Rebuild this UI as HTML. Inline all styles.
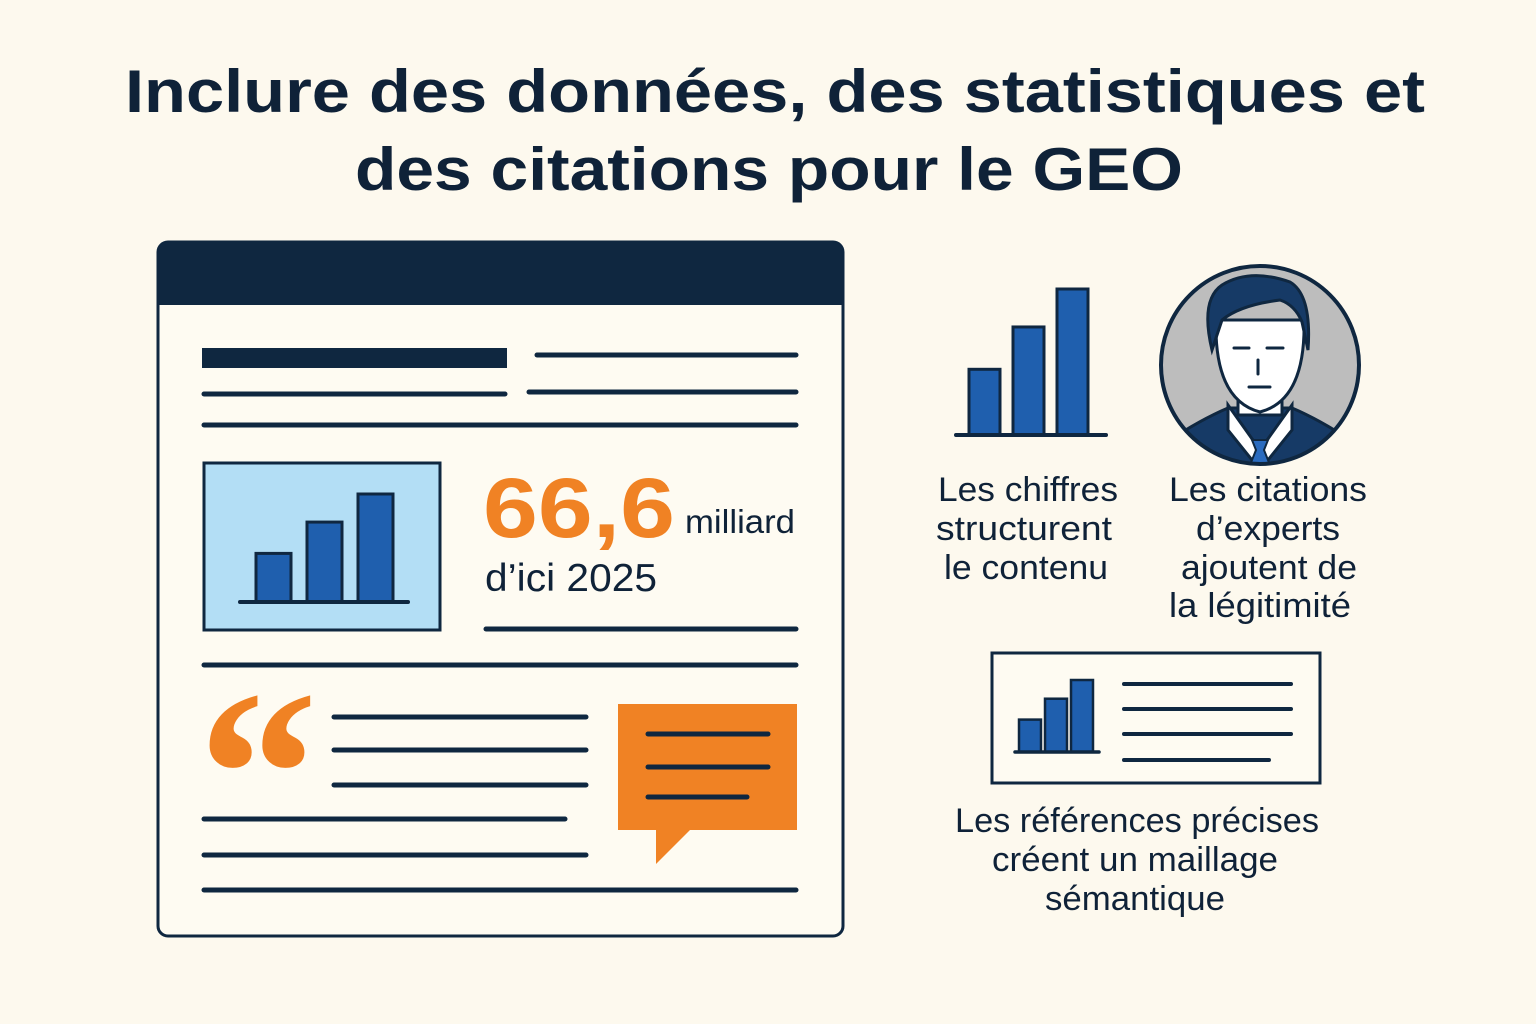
<!DOCTYPE html>
<html><head><meta charset="utf-8"><style>
html,body{margin:0;padding:0;background:#fdf9ee;}
svg{display:block;}
text{font-family:"Liberation Sans",sans-serif;fill:#0f2238;}
</style></head><body>
<svg id="root" width="1536" height="1024" viewBox="0 0 1536 1024">
<rect width="1536" height="1024" fill="#fdf9ee"/>
<g>
<text x="775" y="112" text-anchor="middle" font-size="60" font-weight="bold" textLength="1300" lengthAdjust="spacingAndGlyphs">Inclure des données, des statistiques et</text>
<text x="769" y="190" text-anchor="middle" font-size="60" font-weight="bold" textLength="828" lengthAdjust="spacingAndGlyphs">des citations pour le GEO</text>
</g>
<g>
<rect x="158" y="242" width="685" height="694" rx="10" fill="#fefbf2" stroke="#0f2740" stroke-width="3"/>
<path d="M158 305 V252 a10 10 0 0 1 10 -10 H833 a10 10 0 0 1 10 10 V305 Z" fill="#0f2740"/>
<rect x="202" y="348" width="305" height="20" fill="#0f2740"/>
<g stroke="#0f2740" stroke-width="5" stroke-linecap="round">
<line x1="537" y1="355" x2="796" y2="355"/>
<line x1="204" y1="394" x2="505" y2="394"/>
<line x1="529" y1="392" x2="796" y2="392"/>
<line x1="204" y1="425" x2="796" y2="425"/>
<line x1="486" y1="629" x2="796" y2="629"/>
<line x1="204" y1="665" x2="796" y2="665"/>
<line x1="334" y1="717" x2="586" y2="717"/>
<line x1="334" y1="750" x2="586" y2="750"/>
<line x1="334" y1="785" x2="586" y2="785"/>
<line x1="204" y1="819" x2="565" y2="819"/>
<line x1="204" y1="855" x2="586" y2="855"/>
<line x1="204" y1="890" x2="796" y2="890"/>
</g>
<rect x="204" y="463" width="236" height="167" fill="#b3def5" stroke="#0f2740" stroke-width="3"/>
<g id="chartA"></g>
<text x="483" y="537" font-size="84" font-weight="bold" textLength="192" lengthAdjust="spacingAndGlyphs" style="fill:#f08224">66,6</text>
<text x="685" y="533" font-size="33" textLength="110" lengthAdjust="spacingAndGlyphs">milliard</text>
<text x="485" y="591" font-size="39" textLength="172" lengthAdjust="spacingAndGlyphs">d’ici 2025</text>
<text x="198" y="855" font-size="240" font-weight="bold" style="fill:#f08224;font-family:'Liberation Serif',serif">“</text>
<path d="M618 704 H797 V830 H690 L656 864 V830 H618 Z" fill="#f08224"/>
<g stroke="#0f2740" stroke-width="5" stroke-linecap="round">
<line x1="648" y1="734" x2="768" y2="734"/>
<line x1="648" y1="767" x2="768" y2="767"/>
<line x1="648" y1="797" x2="747" y2="797"/>
</g>
</g>
<g id="chartB"></g>
<g>
<clipPath id="cc"><circle cx="1260" cy="365" r="99"/></clipPath>
<circle cx="1260" cy="365" r="99" fill="#bdbdbd"/>
<g clip-path="url(#cc)">
<path d="M1160 470 L1170 440 Q1200 420 1228 408 L1292 408 Q1320 420 1350 440 L1360 470 Z" fill="#163a66" stroke="#0f2740" stroke-width="3"/>
<path d="M1228 405 L1260 450 L1292 405 L1292 430 L1260 470 L1228 430 Z" fill="#fff" stroke="#0f2740" stroke-width="3"/>
<path d="M1252 440 H1268 L1264 450 L1272 470 H1248 L1256 450 Z" fill="#2a6bbf" stroke="#0f2740" stroke-width="2"/>
</g>
<rect x="1238" y="385" width="44" height="30" fill="#fff" stroke="#0f2740" stroke-width="3"/>
<path d="M1216 320 Q1214 400 1260 412 Q1306 400 1304 320 Z" fill="#fff" stroke="#0f2740" stroke-width="3"/>
<path d="M1212 350 Q1200 300 1222 285 Q1250 268 1290 282 Q1312 295 1308 350 L1302 322 Q1295 305 1280 300 Q1240 305 1222 320 Z" fill="#163a66" stroke="#0f2740" stroke-width="3"/>
<g stroke="#0f2740" stroke-width="3" stroke-linecap="round">
<line x1="1234" y1="348" x2="1249" y2="348"/><line x1="1267" y1="348" x2="1283" y2="348"/>
<line x1="1258" y1="360" x2="1258" y2="374"/><line x1="1249" y1="387" x2="1270" y2="387"/>
</g>
<circle cx="1260" cy="365" r="99" fill="none" stroke="#0f2740" stroke-width="4"/>
</g>
<g font-size="34">
<text x="1028" y="501" text-anchor="middle" textLength="180" lengthAdjust="spacingAndGlyphs">Les chiffres</text>
<text x="1024" y="540" text-anchor="middle" textLength="176" lengthAdjust="spacingAndGlyphs">structurent</text>
<text x="1026" y="579" text-anchor="middle" textLength="164" lengthAdjust="spacingAndGlyphs">le contenu</text>
</g>
<g font-size="34">
<text x="1268" y="501" text-anchor="middle" textLength="198" lengthAdjust="spacingAndGlyphs">Les citations</text>
<text x="1268" y="540" text-anchor="middle" textLength="144" lengthAdjust="spacingAndGlyphs">d’experts</text>
<text x="1269" y="579" text-anchor="middle" textLength="176" lengthAdjust="spacingAndGlyphs">ajoutent de</text>
<text x="1260" y="617" text-anchor="middle" textLength="182" lengthAdjust="spacingAndGlyphs">la légitimité</text>
</g>
<g>
<rect x="992" y="653" width="328" height="130" fill="#fefbf2" stroke="#0f2740" stroke-width="3"/>
<g stroke="#0f2740" stroke-width="4" stroke-linecap="round">
<line x1="1124" y1="684" x2="1291" y2="684"/>
<line x1="1124" y1="709" x2="1291" y2="709"/>
<line x1="1124" y1="734" x2="1291" y2="734"/>
<line x1="1124" y1="760" x2="1269" y2="760"/>
</g>
<g id="chartC"></g>
</g>
<g font-size="34">
<text x="1137" y="832" text-anchor="middle" textLength="364" lengthAdjust="spacingAndGlyphs">Les références précises</text>
<text x="1135" y="871" text-anchor="middle" textLength="286" lengthAdjust="spacingAndGlyphs">créent un maillage</text>
<text x="1135" y="910" text-anchor="middle" textLength="180" lengthAdjust="spacingAndGlyphs">sémantique</text>
</g>
</svg>
<script>
const categories = ["bar-1","bar-2","bar-3"];
const barValues = [45, 74, 100];
const maxValue = 100;
const NS = "http://www.w3.org/2000/svg";
function drawChart(id, x0, x1, baseY, plotH, barW, gap, sw) {
  const g = document.getElementById(id);
  const yScale = v => baseY - v / maxValue * plotH;
  barValues.forEach((v, i) => {
    const r = document.createElementNS(NS, "rect");
    const x = x0 + gap + i * (barW + gap);
    r.setAttribute("x", x);
    r.setAttribute("y", yScale(v));
    r.setAttribute("width", barW);
    r.setAttribute("height", baseY - yScale(v));
    r.setAttribute("fill", "#1f5fae");
    r.setAttribute("stroke", "#0f2740");
    r.setAttribute("stroke-width", sw);
    
    
    g.appendChild(r);
  });
  const l = document.createElementNS(NS, "line");
  l.setAttribute("x1", x0); l.setAttribute("x2", x1);
  l.setAttribute("y1", baseY); l.setAttribute("y2", baseY);
  l.setAttribute("stroke", "#0f2740"); l.setAttribute("stroke-width", sw + 1);
  l.setAttribute("stroke-linecap", "round");
  
  
  g.appendChild(l);
}
drawChart("chartA", 240, 408, 602, 108, 35, 16, 3);
drawChart("chartB", 956, 1106, 435, 146, 31, 13, 3);
drawChart("chartC", 1015, 1099, 752, 72, 22, 4, 2.5);
</script>
</body></html>
